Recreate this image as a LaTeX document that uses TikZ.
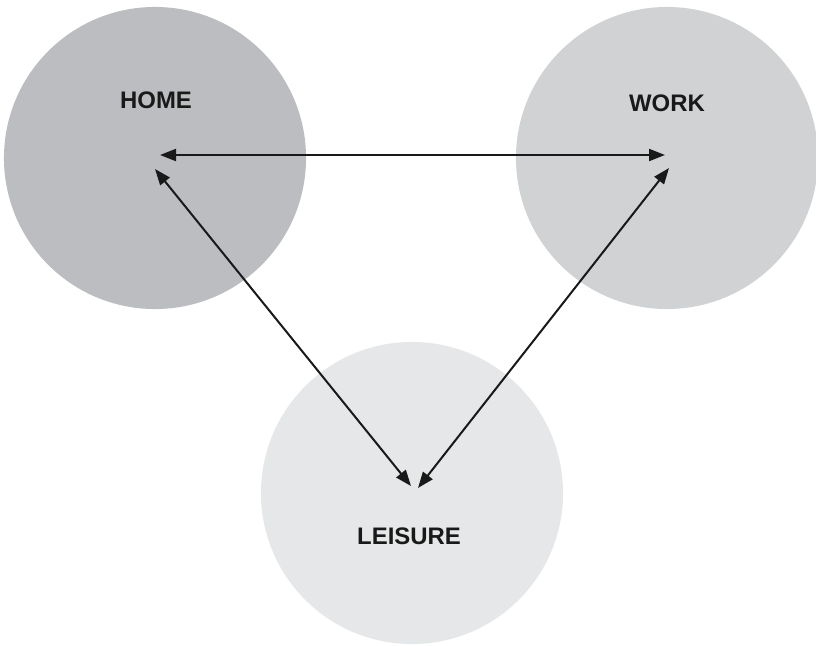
\documentclass[tikz,border=0pt]{standalone}
\usepackage{fontspec}
\setmainfont{Liberation Sans}
\usetikzlibrary{arrows.meta}
\definecolor{homegray}{HTML}{BCBDC0}
\definecolor{workgray}{HTML}{D1D2D4}
\definecolor{leisgray}{HTML}{E6E7E8}

\begin{document}
\begin{tikzpicture}[x=0.025cm,y=-0.025cm,
  zone/.style={circle,inner sep=0pt,minimum size=7.55cm},
  lbl/.style={font=\bfseries\fontsize{17}{17}\selectfont,text=black!90},
  arr/.style={{Triangle[length=0.4cm,width=0.3cm]}-{Triangle[length=0.4cm,width=0.3cm]},line width=0.05cm,black!90}]
\useasboundingbox (0,0) rectangle (816,645);
% the three spheres of life
\node[zone,fill=homegray] (home) at (155,158) {};
\node[zone,fill=workgray] (work) at (667,158) {};
\node[zone,fill=leisgray] (leisure) at (412,493) {};
% arrow ends near the centres
\coordinate (h1) at (160,155);
\coordinate (h2) at (155,169);
\coordinate (w1) at (665,155);
\coordinate (w2) at (669,168);
\coordinate (l1) at (411,486);
\coordinate (l2) at (418,488);
\draw[arr] (h1) -- (w1);
\draw[arr] (h2) -- (l1);
\draw[arr] (w2) -- (l2);
% labels
\node[lbl] (homelbl) at (156,100) {HOME};
\node[lbl] (worklbl) at (667,103) {WORK};
\node[lbl] (leislbl) at (409,536) {LEISURE};
\end{tikzpicture}
\end{document}
